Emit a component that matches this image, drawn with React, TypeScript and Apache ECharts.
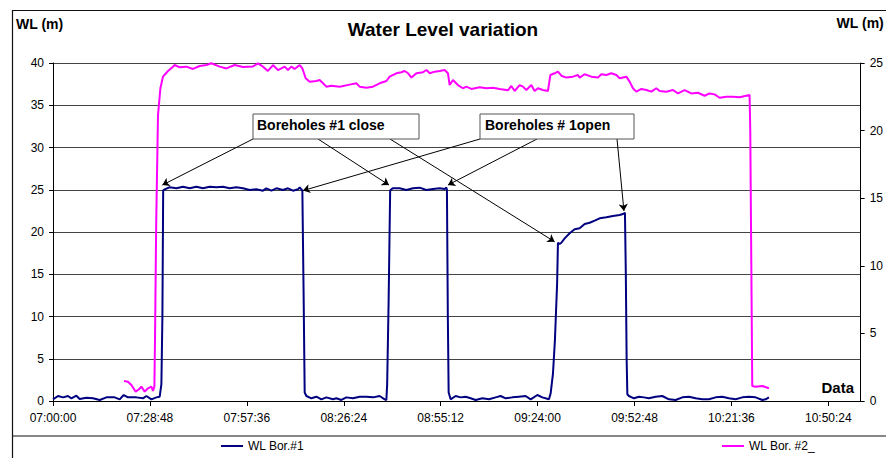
import React, { useEffect, useRef } from "react";
import * as echarts from "echarts";

// x values: minutes elapsed since 07:00:00
const bor1Minutes = [
  0, 1.49, 2.97, 4.46, 5.47, 6.95, 7.93, 9.92, 11.88, 13.88, 15.87, 18.33, 19.82, 21.01, 22.28, 24.78, 26.74, 27.75, 29.24, 30.72, 31.7, 32.21, 32.51, 32.74,
  33.19, 34.67, 36.66, 38.63, 40.62, 42.61, 44.57, 46.56, 48.55, 50.51, 52.5, 54.49, 56.45, 58.44, 60.43, 62.4, 63.4, 64.89, 66.38, 68.34, 69.82, 71.31, 72.8, 73.3, 73.81, 74.1,
  74.49, 74.79, 75.29, 76.78, 78.26, 79.75, 81.23, 83.19, 84.2, 85.69, 87.17, 89.14, 91.13, 93.12, 95.08, 97.07, 98.56, 99.06,
  99.3, 99.74, 100.19, 100.93, 103.01, 105.0, 106.96, 108.95, 110.94, 112.9, 114.89, 116.38, 116.88, 117.06,
  117.33, 117.57, 118.16, 119.65, 121.14, 122.62, 124.11, 125.59, 127.58, 129.54, 131.53, 133.02, 134.51, 136.5, 138.46, 140.45, 141.94, 143.93, 145.41, 147.37,
  147.88, 148.56, 149.15, 149.81, 150.05, 150.55, 151.06, 152.04, 153.53, 155.01, 156.5, 157.99, 159.47, 160.96, 162.45, 164.43, 166.39, 168.38, 169.36, 169.96,
  170.22, 170.46, 170.67, 171.14, 172.63, 174.11, 175.6, 177.09, 179.08, 181.06, 183.03, 185.02, 187.01, 188.97, 190.96, 192.95, 194.91, 196.9, 198.89, 200.85,
  202.84, 204.83, 206.8, 208.79, 210.78, 211.76, 212.74,
];
const bor1WL = [
  0.2, 0.59, 0.43, 0.59, 0.32, 0.63, 0.24, 0.39, 0.32, 0.12, 0.43, 0.43, 0.2, 0.71, 0.43, 0.43, 0.32, 0.59, 0.2, 0.43, 0.51, 2.0, 10, 24.9,
  25.05, 25.29, 25.17, 25.36, 25.17, 25.36, 25.17, 25.36, 25.29, 25.36, 25.17, 25.29, 25.17, 24.97, 25.05, 24.89, 25.17, 24.89, 25.17, 24.97, 25.17, 24.89, 25.05, 25.29, 25.05, 24.9,
  12, 1.0, 0.59, 0.32, 0.51, 0.2, 0.43, 0.2, 0.32, 0.12, 0.43, 0.32, 0.51, 0.51, 0.43, 0.59, 0.2, 0.12,
  2, 12, 24.9, 25.17, 25.17, 24.97, 25.17, 25.25, 24.97, 25.09, 25.17, 25.09, 25.25, 25.0,
  10, 1.0, 0.2, 0.59, 0.43, 0.51, 0.32, 0.12, 0.32, 0.2, 0.43, 0.59, 0.32, 0.43, 0.51, 0.59, 0.2, 0.71, 0.43, 0.2,
  0.9, 3.2, 7.2, 14, 18.73, 18.58, 18.73, 19.25, 19.85, 20.32, 20.44, 20.95, 21.1, 21.34, 21.62, 21.74, 21.89, 22.01, 22.13, 22.28,
  15, 5, 0.8, 0.59, 0.32, 0.51, 0.43, 0.32, 0.51, 0.59, 0.2, 0.12, 0.43, 0.51, 0.32, 0.2, 0.2, 0.43, 0.51, 0.32,
  0.2, 0.43, 0.51, 0.43, 0.12, 0.2, 0.43,
];

const bor2Minutes = [
  21.1, 22.28, 23.29, 24.57, 25.55, 26.27, 27.25, 28.23, 29.24, 29.71, 30.13, 30.31, 30.66, 31.2, 31.91, 32.68, 34.17, 35.65, 36.16, 37.65,
  39.64, 41.6, 43.59, 45.58, 47.06, 49.53, 51.52, 53.99, 56.45, 59.42, 60.91, 62.4, 63.88, 65.37, 66.85, 68.84, 69.82, 70.83, 71.81, 73.3,
  74.1, 75.08, 76.27, 78.26, 79.24, 80.23, 81.23, 82.72, 85.18, 88.15, 90.14, 91.13, 93.12, 95.08, 97.07, 99.06, 100.04, 102.03, 103.52, 104.5,
  105.51, 106.52, 108.0, 109.97, 110.98, 111.96, 113.45, 114.89, 116.38, 117.36, 117.87, 118.85, 120.33, 121.82, 122.83, 124.31, 126.78, 128.77, 130.73, 132.72,
  135.19, 136.2, 137.18, 138.66, 139.65, 140.65, 142.14, 143.12, 144.1, 145.59, 147.07, 147.79, 149.06, 150.05, 151.06, 152.54, 154.5, 155.99, 156.49, 157.98,
  159.97, 161.93, 162.94, 164.43, 165.91, 167.4, 168.38, 170.37, 171.35, 172.33, 173.34, 174.83, 176.31, 177.8, 179.28, 180.26, 182.25, 184.21, 185.7, 187.69,
  189.68, 191.64, 193.63, 195.11, 196.6, 198.08, 200.07, 202.03, 204.02, 206.01, 206.99, 207.2, 207.79, 208.79, 210.78, 212.74,
];
const bor2WL = [
  1.48, 1.43, 1.18, 0.69, 0.87, 1.06, 0.69, 0.94, 1.06, 0.74, 1.06, 4.5, 13, 21.15, 23.13, 23.99, 24.41, 24.73, 24.85, 24.68,
  24.73, 24.56, 24.78, 24.85, 24.98, 24.73, 24.6, 24.85, 24.7, 24.75, 24.97, 24.73, 24.41, 24.85, 24.48, 24.73, 24.48, 24.73, 24.56, 24.85,
  24.6, 23.87, 23.62, 23.67, 23.74, 23.5, 23.25, 23.32, 23.25, 23.4, 23.5, 23.25, 23.17, 23.25, 23.5, 23.67, 23.99, 24.24, 24.32, 24.41,
  24.24, 23.92, 24.24, 24.32, 24.48, 24.24, 24.36, 24.41, 24.48, 24.24, 23.37, 23.74, 23.37, 23.13, 23.25, 23.08, 23.2, 23.13, 23.17, 23.08,
  22.98, 23.3, 22.93, 23.37, 23.25, 23.0, 23.37, 22.93, 23.13, 23.0, 22.93, 24.11, 24.24, 24.36, 24.06, 23.92, 23.99, 24.11, 23.92, 24.17,
  23.99, 23.92, 24.17, 24.11, 24.24, 24.11, 23.87, 23.99, 23.62, 23.13, 22.88, 23.08, 23.0, 22.88, 23.13, 22.93, 22.88, 23.0, 22.75, 23.0,
  22.75, 22.8, 22.58, 22.75, 22.68, 22.43, 22.5, 22.5, 22.46, 22.58, 22.63, 20, 1.11, 1.06, 1.11, 0.94,
];

// annotation arrow targets (minutes since 07:00, WL on left axis)
const closeTargets = [
  [32.5, 25.56],
  [99.83, 25.56],
  [149.06, 18.85],
];
const openTargets = [
  [74.28, 24.9],
  [117.36, 25.56],
  [169.66, 22.49],
];

const leftTicks = { min: 0, max: 40, interval: 5 };
const rightTicks = { min: 0, max: 25, interval: 5 };
const xTicks = { min: 0, max: 240, interval: 28.8 };

const FONT = "'Liberation Sans', Arial, sans-serif";

const pad2 = (n: number) => (n < 10 ? "0" + n : "" + n);
const fmtTime = (m: number) => {
  const s = Math.round(m * 60) + 7 * 3600;
  const h = Math.floor(s / 3600);
  const mm = Math.floor((s % 3600) / 60);
  const ss = s % 60;
  return pad2(h) + ":" + pad2(mm) + ":" + pad2(ss);
};

export default function App() {
  const ref = useRef<HTMLDivElement>(null);
  useEffect(() => {
    document.body.style.margin = "0";
    if (!ref.current) return;
    const chart = echarts.init(ref.current, undefined, { renderer: "svg" });

    const s1 = bor1Minutes.map((t, i) => [t, bor1WL[i]]);
    const s2 = bor2Minutes.map((t, i) => [t, bor2WL[i]]);

    const closeStarts = [
      { x: 253, y: 139 },
      { x: 318, y: 139 },
      { x: 390, y: 139 },
    ];
    const openStarts = [
      { x: 480, y: 139 },
      { x: 537, y: 139 },
      { x: 617, y: 139 },
    ];
    const mlData: any[] = [];
    closeTargets.forEach((c, i) => mlData.push([closeStarts[i], { coord: c }]));
    openTargets.forEach((c, i) => mlData.push([openStarts[i], { coord: c }]));

    chart.setOption({
      animation: false,
      backgroundColor: "#fff",
      textStyle: { fontFamily: FONT },
      title: {
        text: "Water Level variation",
        left: "center",
        top: 15,
        textStyle: { fontFamily: FONT, fontSize: 19, fontWeight: "bold", color: "#000" },
      },
      grid: { left: 53, right: 25, top: 63, bottom: 57, containLabel: false },
      legend: [
        {
          data: ["WL Bor.#1"],
          left: 221,
          top: 440,
          padding: 0,
          icon: "rect",
          itemWidth: 22,
          itemHeight: 2,
          textStyle: { fontFamily: FONT, fontSize: 12, color: "#000" },
        },
        {
          data: ["WL Bor. #2_"],
          left: 722,
          top: 440,
          padding: 0,
          icon: "rect",
          itemWidth: 22,
          itemHeight: 2,
          textStyle: { fontFamily: FONT, fontSize: 12, color: "#000" },
        },
      ],
      xAxis: {
        type: "value",
        min: xTicks.min,
        max: xTicks.max,
        interval: xTicks.interval,
        axisLine: { show: true, lineStyle: { color: "#000", width: 1 } },
        axisTick: { show: true, length: 5, lineStyle: { color: "#000" } },
        splitLine: { show: false },
        axisLabel: {
          margin: 11,
          fontFamily: FONT,
          fontSize: 12,
          color: "#000",
          showMaxLabel: false,
          formatter: (v: number) => (v > 235 ? "" : fmtTime(v)),
        },
      },
      yAxis: [
        {
          type: "value",
          position: "left",
          min: leftTicks.min,
          max: leftTicks.max,
          interval: leftTicks.interval,
          axisLine: { show: true, lineStyle: { color: "#000", width: 1 } },
          axisTick: { show: true, length: 4, lineStyle: { color: "#000" } },
          splitLine: { show: true, lineStyle: { color: "#444", width: 1 } },
          axisLabel: { margin: 9, fontFamily: FONT, fontSize: 12, color: "#000" },
        },
        {
          type: "value",
          position: "right",
          min: rightTicks.min,
          max: rightTicks.max,
          interval: rightTicks.interval,
          axisLine: { show: true, lineStyle: { color: "#000", width: 1 } },
          axisTick: { show: true, length: 4, lineStyle: { color: "#000" } },
          splitLine: { show: false },
          axisLabel: { margin: 9, fontFamily: FONT, fontSize: 12, color: "#000" },
        },
      ],
      series: [
        {
          name: "WL Bor.#1",
          type: "line",
          yAxisIndex: 0,
          data: s1,
          showSymbol: false,
          symbol: "none",
          color: "#000080",
          lineStyle: { color: "#000080", width: 2 },
          z: 3,
          markLine: {
            silent: true,
            symbol: ["none", "arrow"],
            symbolSize: 7,
            label: { show: false },
            emphasis: { disabled: true },
            lineStyle: { color: "#000", width: 1, type: "solid" },
            data: mlData,
          },
        },
        {
          name: "WL Bor. #2_",
          type: "line",
          yAxisIndex: 1,
          data: s2,
          showSymbol: false,
          symbol: "none",
          color: "#FF00FF",
          lineStyle: { color: "#FF00FF", width: 2 },
          z: 2,
        },
      ],
      graphic: [
        { type: "line", shape: { x1: 12, y1: 10.5, x2: 886, y2: 10.5 }, style: { stroke: "#111", lineWidth: 1.2 } },
        { type: "line", shape: { x1: 12.5, y1: 10, x2: 12.5, y2: 458 }, style: { stroke: "#111", lineWidth: 1.2 } },
        { type: "line", shape: { x1: 12, y1: 436, x2: 886, y2: 436 }, style: { stroke: "#111", lineWidth: 1.2 } },
        {
          type: "text",
          left: 16,
          top: 17,
          style: { text: "WL (m)", font: "bold 14px " + FONT, fill: "#000" },
        },
        {
          type: "text",
          right: 2,
          top: 16,
          style: { text: "WL (m)", font: "bold 14px " + FONT, fill: "#000" },
        },
        {
          type: "text",
          x: 854,
          y: 387,
          style: { text: "Data", font: "bold 15px " + FONT, fill: "#000", align: "right", verticalAlign: "middle" },
        },
        {
          type: "rect",
          z: 100,
          shape: { x: 253, y: 114, width: 166, height: 25 },
          style: { fill: "#fff", stroke: "#555", lineWidth: 1 },
        },
        {
          type: "text",
          z: 101,
          x: 257,
          y: 125,
          style: { text: "Boreholes #1 close", font: "bold 14px " + FONT, fill: "#000", align: "left", verticalAlign: "middle" },
        },
        {
          type: "rect",
          z: 100,
          shape: { x: 480, y: 114, width: 154, height: 25 },
          style: { fill: "#fff", stroke: "#555", lineWidth: 1 },
        },
        {
          type: "text",
          z: 101,
          x: 485,
          y: 125,
          style: { text: "Boreholes # 1open", font: "bold 14px " + FONT, fill: "#000", align: "left", verticalAlign: "middle" },
        },
      ],
    });
    return () => chart.dispose();
  }, []);
  return <div ref={ref} style={{ width: 886, height: 458 }} />;
}
